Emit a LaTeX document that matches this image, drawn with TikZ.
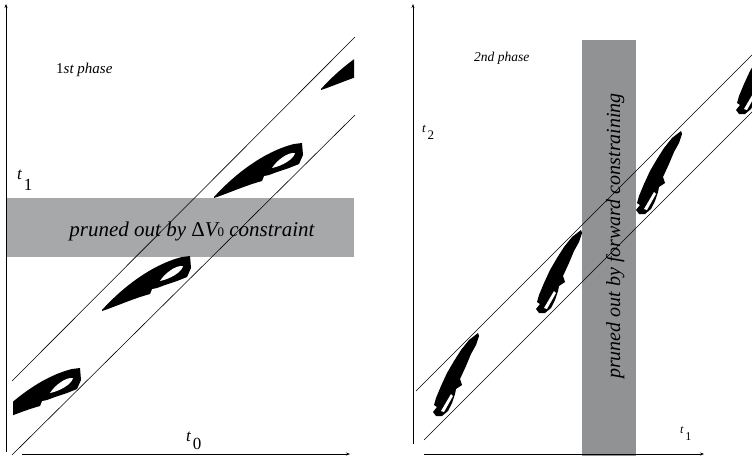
\documentclass[tikz,border=0pt]{standalone}
\usepackage{fontspec}
\setmainfont{Liberation Serif}
\usetikzlibrary{arrows.meta}

\definecolor{bandlight}{RGB}{167,168,170}
\definecolor{banddark}{RGB}{145,146,148}

\begin{document}
\begin{tikzpicture}[
    x=1pt,
    y=-1pt,
    axis/.style={
        -{Stealth[length=4pt,width=3pt]},
        line width=0.8pt
    },
    diag/.style={
        line width=0.6pt
    },
    phase/.style={
        font=\fontsize{15}{15}\selectfont\itshape,
        anchor=west,
        inner sep=0pt
    },
    pruned/.style={
        font=\fontsize{21}{21}\selectfont\itshape,
        inner sep=0pt
    },
    tlabel/.style={
        font=\fontsize{17}{17}\selectfont,
        anchor=base west,
        inner sep=0pt
    },
    rho/.pic={
        \fill[black] (0,0) .. controls (18,-20) and (48,-45) .. (80,-53)
            -- (88,-54) -- (89,-42) -- (85,-33) -- (75,-29) -- (63,-25)
            -- (55,-22) -- (50,-21) -- (48,-16)
            .. controls (30,-11) and (15,-4) .. (0,1) -- cycle;
        \fill[white] (58,-29) .. controls (63,-37) and (74,-45) .. (81,-44)
            .. controls (80,-38) and (68,-31) .. (58,-29) -- cycle;
    },
    feather/.pic={
        \fill[black] (0,0) -- (-9,7) -- (-17,17) -- (-24,28)
            -- (-31,40) -- (-37,53) -- (-42,65) -- (-44,72) -- (-41,74)
            -- (-45,79) -- (-42,83) -- (-36,83) -- (-30,78) -- (-26,70)
            -- (-23,61) -- (-22,56) -- (-16,52) -- (-18,46) -- (-12,33)
            -- (-7,21) -- (-2,12) -- (1,3) -- cycle;
        \fill[white] (-37,78) -- (-27,61) -- (-25,63) -- (-34,79) -- cycle;
    }
]
\useasboundingbox (0,0) rectangle (752,456);

% Left panel: 1st phase
\fill[bandlight] (6,198) rectangle (354,257);
\node[pruned, anchor=base] (cutdv) at (192,236)
    {pruned out by {\upshape Δ}V{\upshape\fontsize{13}{13}\selectfont 0} constraint};

\begin{scope}
    \clip (13,0) rectangle (354,456);
    \pic at (-8,422) {rho};
    \pic at (102,310) {rho};
    \pic at (214,197) {rho};
    \pic at (321,89) {rho};
\end{scope}

\coordinate (la) at (12,381);
\coordinate (lb) at (355,37);
\coordinate (lc) at (12,455);
\coordinate (ld) at (355,115);
\draw[diag] (la) -- (lb);
\draw[diag] (lc) -- (ld);

\coordinate (o1) at (6,452);
\coordinate (y1) at (6,4);
\coordinate (x0) at (22,454);
\coordinate (x1) at (350,454);
\draw[axis] (o1) -- (y1);
\draw[axis] (x0) -- (x1);

\node[phase] (first) at (56,70) {{\upshape 1}st phase};
\node[tlabel] (tone) at (17,179) {\textit{t}\kern1.5pt\raisebox{-11pt}{1}};
\node[tlabel] (tzero) at (186,441) {\textit{t}\kern1.5pt\raisebox{-8pt}{0}};

% Right panel: 2nd phase
\fill[banddark] (582,40) rectangle (636,456);
\node[pruned, font=\fontsize{20}{20}\selectfont\itshape, rotate=90, anchor=base] (cutfw) at (620,236)
    {pruned out by forward constraining};

\begin{scope}
    \clip (414,0) rectangle (752,456);
    \pic at (478,333) {feather};
    \pic at (581,230) {feather};
    \pic at (681,131) {feather};
    \pic at (781,31) {feather};
\end{scope}

\coordinate (ra) at (416,391);
\coordinate (rb) at (760,47);
\coordinate (rc) at (424,440);
\coordinate (rd) at (760,104);
\begin{scope}
    \clip (0,0) rectangle (752,456);
    \draw[diag] (ra) -- (rb);
    \draw[diag] (rc) -- (rd);
\end{scope}

\coordinate (o2) at (413,444);
\coordinate (y2) at (413,4);
\coordinate (x2) at (424,454);
\coordinate (x3) at (704,454);
\draw[axis] (o2) -- (y2);
\draw[axis] (x2) -- (x3);

\node[phase, font=\fontsize{13.5}{13.5}\selectfont\itshape] (second) at (474,58) {2nd phase};
\node[tlabel, font=\fontsize{13}{13}\selectfont] (ttwo) at (422,132) {\textit{t}\kern1.5pt\raisebox{-7pt}{2}};
\node[tlabel, font=\fontsize{12}{12}\selectfont] (tonebis) at (680,433) {\textit{t}\kern1.5pt\raisebox{-7pt}{1}};

\end{tikzpicture}
\end{document}
